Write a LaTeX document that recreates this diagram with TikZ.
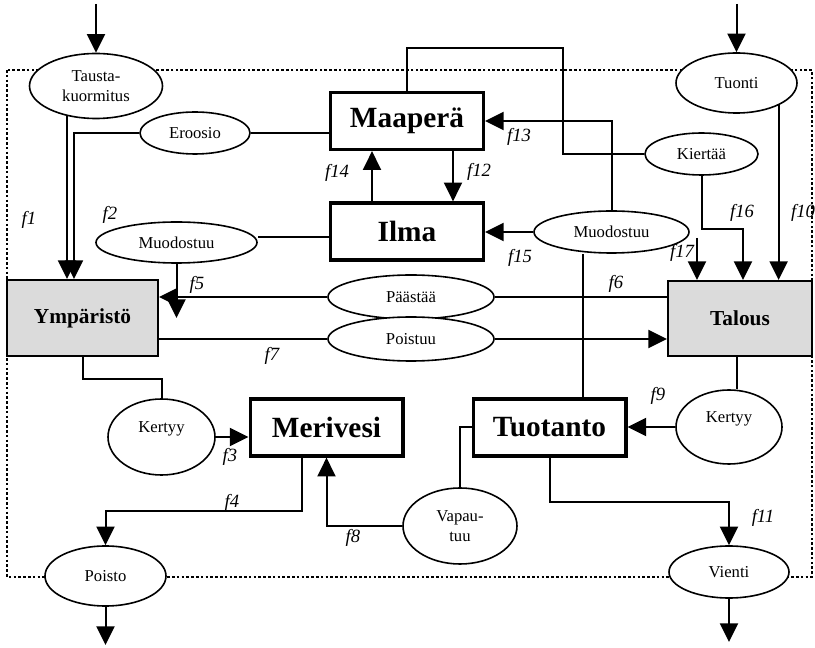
\documentclass[tikz,border=0pt]{standalone}
\usepackage{fontspec}
\setmainfont{Liberation Serif}
\usetikzlibrary{arrows.meta,shapes.geometric}
\definecolor{boxgray}{gray}{0.86}

\begin{document}
\begin{tikzpicture}[x=0.75pt,y=-0.75pt,
  flow/.style={line width=1.5pt},
  arr/.style={flow,-{Triangle[length=14pt,width=13.5pt]}},
  store/.style={draw,line width=2.5pt,inner sep=0pt,minimum width=114.5pt,minimum height=42.75pt,
    font=\fontsize{22}{26}\selectfont\bfseries},
  sector/.style={draw,line width=1.5pt,fill=boxgray,inner sep=0pt,
    font=\fontsize{16}{19}\selectfont\bfseries},
  proc/.style={draw,ellipse,line width=1.2pt,fill=white,inner sep=0pt,align=center,
    font=\fontsize{12.5}{14.5}\selectfont},
  flab/.style={font=\fontsize{14}{16}\selectfont\itshape}]

\useasboundingbox (0,0) rectangle (815,648);

% draw system border
\draw [line width=2pt, dash pattern=on 2pt off 1.6pt] (7,70) rectangle (812,577);

% draw stores
\node[store] (maapera) at (407,121) {Maaperä};
\node[store] (ilma) at (407,231.5) {Ilma};
\node[store] (merivesi) at (326.5,427.5) {Merivesi};
\node[store] (tuotanto) at (549.5,427.5) {Tuotanto};
\node[sector, minimum width=113.25pt, minimum height=57pt] (ymp) at (82.5,318) {Ympäristö};
\node[sector, minimum width=108pt, minimum height=56.25pt] (talous) at (740,318.5) {Talous};

% draw processes
\node[proc, minimum width=99.75pt, minimum height=48.75pt] (tausta) at (96,86) {Tausta-\\kuormitus};
\node[proc, minimum width=82.5pt, minimum height=31.5pt] (eroosio) at (195,133) {Eroosio};
\node[proc, minimum width=120.75pt, minimum height=30.75pt] (muodL) at (176.5,242.5) {Muodostuu};
\node[proc, minimum width=124.5pt, minimum height=33pt] (paastaa) at (411,297) {Päästää};
\node[proc, minimum width=124.5pt, minimum height=33pt] (poistuu) at (411,339) {Poistuu};
\node[proc, minimum width=90.75pt, minimum height=45pt] (tuonti) at (736.5,83) {Tuonti};
\node[proc, minimum width=84.75pt, minimum height=31.5pt] (kiertaa) at (701.5,154) {Kiertää};
\node[proc, minimum width=116.25pt, minimum height=31.5pt] (muodR) at (611.5,232) {Muodostuu};
\node[proc, minimum width=80.25pt, minimum height=57pt, text depth=15pt] (kertyyL) at (161.5,437) {Kertyy};
\node[proc, minimum width=79.5pt, minimum height=55.5pt, text depth=15pt] (kertyyR) at (729,427) {Kertyy};
\node[proc, minimum width=85.5pt, minimum height=57pt] (vapautuu) at (460,526) {Vapau-\\tuu};
\node[proc, minimum width=90.75pt, minimum height=45pt] (poisto) at (105.5,576) {Poisto};
\node[proc, minimum width=90pt, minimum height=39pt] (vienti) at (729,572) {Vienti};

% free ends
\coordinate (inL) at (96,4);
\coordinate (inR) at (736.5,4);
\coordinate (outL) at (105.5,645);
\coordinate (outR) at (729,642);
\coordinate (f2end) at (176.5,318);
\coordinate (f17in) at (697,238);
\coordinate (kbend) at (563,48);

% inputs and outputs
\draw[arr] (inL) -- (tausta);
\draw[arr] (inR) -- (tuonti);
\draw[arr] (poisto) -- (outL);
\draw[arr] (vienti) -- (outR);

% into environment
\draw[arr] (tausta.226) -- (tausta.226 |- ymp.north);
\draw[arr] (eroosio.west) -| ([xshift=-6.4pt]ymp.north);
\draw[flow] (eroosio.east) -- (eroosio.east -| maapera.west);
\draw[flow] ([yshift=-4pt]ilma.west) -- ([yshift=-4pt]ilma.west -| muodL.east);
\draw[arr] (muodL) -- (f2end);

% into economy
\draw[flow] (kiertaa.west) -| (kbend) -| (maapera.north);
\draw[arr] (kiertaa.south) -- ++(0,53) -| ([xshift=2.25pt]talous.north);
\draw[arr] (tuonti.-28) -- (tuonti.-28 |- talous.north);
\draw[arr] (f17in) -- (f17in |- talous.north);

% soil and air
\draw[arr] ([xshift=-26.25pt]ilma.north) -- ([xshift=-26.25pt]maapera.south);
\draw[arr] ([xshift=34.5pt]maapera.south) -- ([xshift=34.5pt]ilma.north);
\draw[arr] (muodR.north) |- (maapera.east);
\draw[arr] (muodR.west) -- (muodR.west -| ilma.east);
\draw[flow] ([xshift=25pt]tuotanto.north) -- ([xshift=25pt]tuotanto.north |- muodR.south);

% between sectors
\draw[arr] (paastaa.west) -- (paastaa.west -| ymp.east);
\draw[flow] (paastaa.east) -- (paastaa.east -| talous.west);
\draw[flow] (poistuu.west -| ymp.east) -- (poistuu.west);
\draw[arr] (poistuu.east) -- (poistuu.east -| talous.west);

% sea water and production
\draw[flow] (ymp.south) -- ++(0,22) -| (kertyyL.north);
\draw[arr] (kertyyL.east) -- (kertyyL.east -| merivesi.west);
\draw[arr] ([xshift=-18.4pt]merivesi.south) -- ++(0,53) -| (poisto.north);
\draw[arr] (vapautuu.west) -| (merivesi.south);
\draw[flow] (vapautuu.north) |- (tuotanto.west);
\draw[arr] (tuotanto.south) -- ++(0,44) -| (vienti.north);
\draw[flow] ([xshift=-2.25pt]talous.south) -- ([xshift=-2.25pt]talous.south |- kertyyR.north);
\draw[arr] (kertyyR.west) -- (kertyyR.west -| tuotanto.east);

% flow labels
\node[flab] (lf1) at (29,220) {f1};
\node[flab] (lf2) at (110,215) {f2};
\node[flab] (lf3) at (230,457) {f3};
\node[flab] (lf4) at (232,503) {f4};
\node[flab] (lf5) at (197,285) {f5};
\node[flab] (lf6) at (616,284) {f6};
\node[flab] (lf7) at (272,356) {f7};
\node[flab] (lf8) at (353,538) {f8};
\node[flab] (lf9) at (658,396) {f9};
\node[flab] (lf10) at (803,213) {f10};
\node[flab] (lf11) at (763,518) {f11};
\node[flab] (lf12) at (479,172) {f12};
\node[flab] (lf13) at (519,137) {f13};
\node[flab] (lf14) at (337,173) {f14};
\node[flab] (lf15) at (520,258) {f15};
\node[flab] (lf16) at (742,213) {f16};
\node[flab] (lf17) at (682,253) {f17};

\end{tikzpicture}
\end{document}
